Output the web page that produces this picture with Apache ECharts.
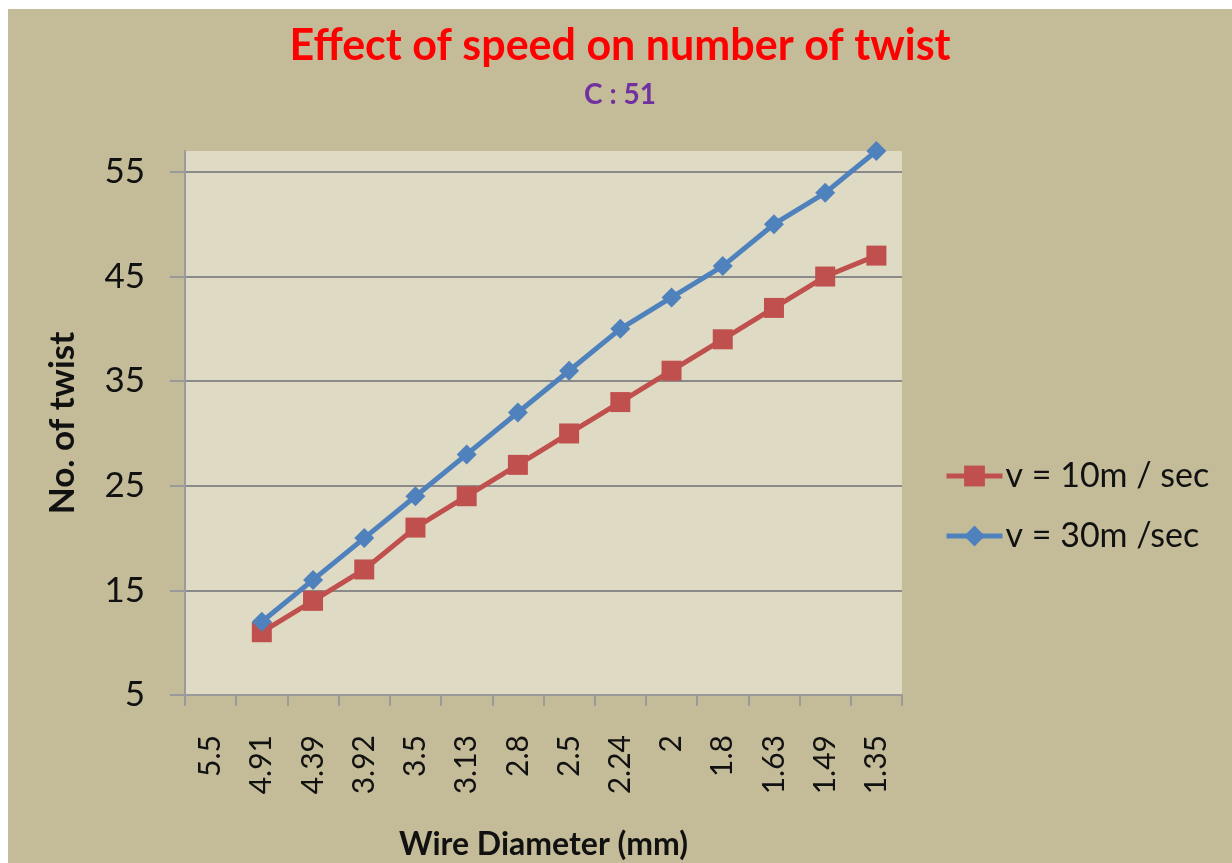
<!DOCTYPE html>
<html>
<head>
<meta charset="utf-8">
<script src="https://cdn.jsdelivr.net/npm/echarts@6/dist/echarts.min.js"></script>
<style>
  html, body { margin: 0; padding: 0; background: #ffffff; width: 1232px; height: 863px; overflow: hidden; }
  #chart { position: absolute; left: 8px; top: 9px; width: 1224px; height: 854px; }
</style>
</head>
<body>
<div id="chart"></div>
<script>
const categories = ['5.5', '4.91', '4.39', '3.92', '3.5', '3.13', '2.8', '2.5', '2.24', '2', '1.8', '1.63', '1.49', '1.35'];
const speed10 = [null, 11, 14, 17, 21, 24, 27, 30, 33, 36, 39, 42, 45, 47];
const speed30 = [null, 12, 16, 20, 24, 28, 32, 36, 40, 43, 46, 50, 53, 57];
const seriesNames = ['v = 10m / sec', 'v = 30m /sec'];

const FONT = 'Lato, "Open Sans", sans-serif';
const chart = echarts.init(document.getElementById('chart'), null, { renderer: 'canvas' });
const gridLine = '#8a8a8a';

chart.setOption({
  backgroundColor: '#c4bc98',
  animation: false,
  title: {
    text: 'Effect of speed on number of twist',
    subtext: 'C : 51',
    left: 'center',
    top: 11,
    itemGap: 13,
    textStyle: { color: '#ff0000', fontFamily: FONT, fontWeight: 'bold', fontSize: 43 },
    subtextStyle: { color: '#7030a0', fontFamily: FONT, fontWeight: 'bold', fontSize: 28 }
  },
  legend: {
    orient: 'vertical',
    left: 931,
    top: 445,
    itemWidth: 56,
    itemHeight: 26,
    itemGap: 26,
    lineStyle: { width: 5 },
    textStyle: { fontFamily: FONT, fontSize: 34, lineHeight: 34, color: '#111111', padding: [0, 0, 0, -2] },
    data: seriesNames
  },
  grid: {
    left: 177,
    top: 142,
    width: 717,
    height: 544,
    show: true,
    backgroundColor: '#dfdac4',
    borderWidth: 0,
    containLabel: false,
    outerBoundsMode: 'none'
  },
  xAxis: {
    type: 'category',
    data: categories,
    boundaryGap: true,
    name: 'Wire Diameter (mm)',
    nameLocation: 'middle',
    nameGap: 134,
    nameTextStyle: { fontFamily: FONT, fontWeight: 'bold', fontSize: 32, color: '#111111' },
    axisLine: { show: true, lineStyle: { color: '#9a9a9a', width: 2 } },
    axisTick: { show: true, alignWithLabel: false, length: 11, lineStyle: { color: '#9a9a9a', width: 2 } },
    axisLabel: { rotate: 90, margin: 40, interval: 0, fontFamily: FONT, fontSize: 30, color: '#111111' },
    splitLine: { show: false }
  },
  yAxis: {
    type: 'value',
    min: 5,
    max: 57,
    interval: 10,
    name: 'No. of twist',
    nameLocation: 'middle',
    nameGap: 105,
    nameRotate: 90,
    nameTextStyle: { fontFamily: FONT, fontWeight: 'bold', fontSize: 35, color: '#111111' },
    axisLine: { show: true, lineStyle: { color: '#9a9a9a', width: 2 } },
    axisTick: { show: true, inside: false, length: 15, lineStyle: { color: '#9a9a9a', width: 2 } },
    axisLabel: {
      margin: 40, fontFamily: FONT, fontSize: 35, color: '#111111',
      showMaxLabel: false,
      formatter: function (v) { return v > 55 ? '' : String(v); }
    },
    splitLine: {
      show: true,
      lineStyle: { color: [gridLine, gridLine, gridLine, gridLine, gridLine, gridLine, 'rgba(0,0,0,0)'], width: 2 }
    }
  },
  series: [
    {
      name: seriesNames[0],
      type: 'line',
      data: speed10,
      symbol: 'rect',
      symbolSize: 20,
      lineStyle: { color: '#c0504d', width: 5 },
      itemStyle: { color: '#c0504d' },
      connectNulls: false
    },
    {
      name: seriesNames[1],
      type: 'line',
      data: speed30,
      symbol: 'diamond',
      symbolSize: 20,
      lineStyle: { color: '#4f81bd', width: 5 },
      itemStyle: { color: '#4f81bd' },
      connectNulls: false
    }
  ]
});
</script>
</body>
</html>
